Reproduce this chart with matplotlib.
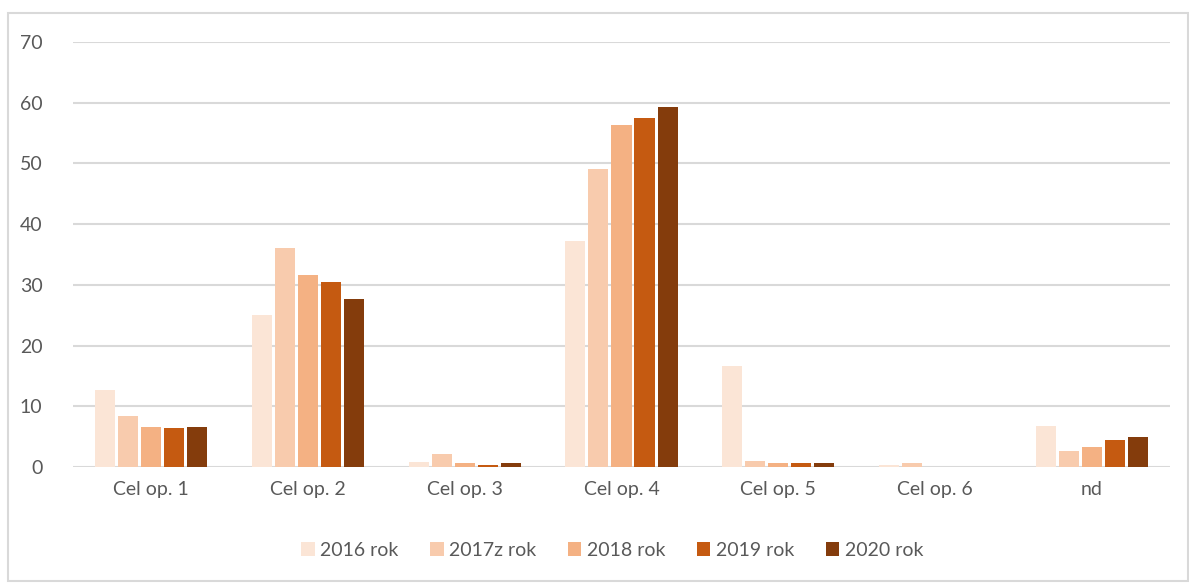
import numpy as np
import matplotlib.pyplot as plt
import matplotlib as mpl
from matplotlib.patches import Rectangle

GREY = "#595959"
GRID = "#D9D9D9"
mpl.rcParams.update({"font.family": ["Lato", "DejaVu Sans"], "text.color": GREY})

categories = ["Cel op. 1", "Cel op. 2", "Cel op. 3", "Cel op. 4", "Cel op. 5", "Cel op. 6", "nd"]
series = ["2016 rok", "2017z rok", "2018 rok", "2019 rok", "2020 rok"]
v2016 = [12.7, 25.1, 0.9, 37.2, 16.6, 0.3, 6.7]
v2017 = [8.4, 36.0, 2.1, 49.1, 1.0, 0.6, 2.7]
v2018 = [6.6, 31.6, 0.6, 56.4, 0.6, 0.0, 3.3]
v2019 = [6.4, 30.4, 0.4, 57.4, 0.6, 0.0, 4.4]
v2020 = [6.6, 27.6, 0.6, 59.3, 0.6, 0.0, 5.0]
values = [v2016, v2017, v2018, v2019, v2020]
colors = ["#FBE5D6", "#F8CBAD", "#F4B183", "#C55A11", "#843C0C"]
yticks = [0, 10, 20, 30, 40, 50, 60, 70]

fig = plt.figure(figsize=(11.89, 5.83), dpi=100)
ax = fig.add_axes([0.0614, 0.199, 0.9226, 0.729])

x = np.arange(len(categories))
slot = 0.147
for i, (name, vals) in enumerate(zip(series, values)):
    ax.bar(x + (i - 2) * slot, vals, width=0.128, color=colors[i], linewidth=0,
           label=name, zorder=3)

ax.set_xlim(-0.5, len(categories) - 0.5)
ax.set_ylim(0, 70)
ax.set_yticks(yticks)
ax.set_yticklabels([str(t) for t in yticks], fontsize=14, color=GREY)
ax.set_xticks(x)
ax.set_xticklabels(categories, fontsize=14, color=GREY)
ax.tick_params(axis="both", length=0)
ax.tick_params(axis="y", pad=22)
ax.tick_params(axis="x", pad=10)
ax.grid(axis="y", color=GRID, lw=1.5, zorder=0)
ax.set_axisbelow(True)
for s in ax.spines.values():
    s.set_visible(False)

ax.legend(loc="center", ncol=5, frameon=False, fontsize=14, handlelength=0.7,
          handleheight=0.7, handletextpad=0.3, columnspacing=1.6, labelcolor=GREY,
          bbox_to_anchor=(0.515, 0.056), bbox_transform=fig.transFigure)

fig.patches.append(Rectangle((8 / 1189, 0.003), 1 - 9 / 1189, 1 - 13 / 583 - 0.003,
                             transform=fig.transFigure, fill=False, edgecolor=GRID, lw=1.5))

fig.savefig("out.png", dpi=100, facecolor="white")
